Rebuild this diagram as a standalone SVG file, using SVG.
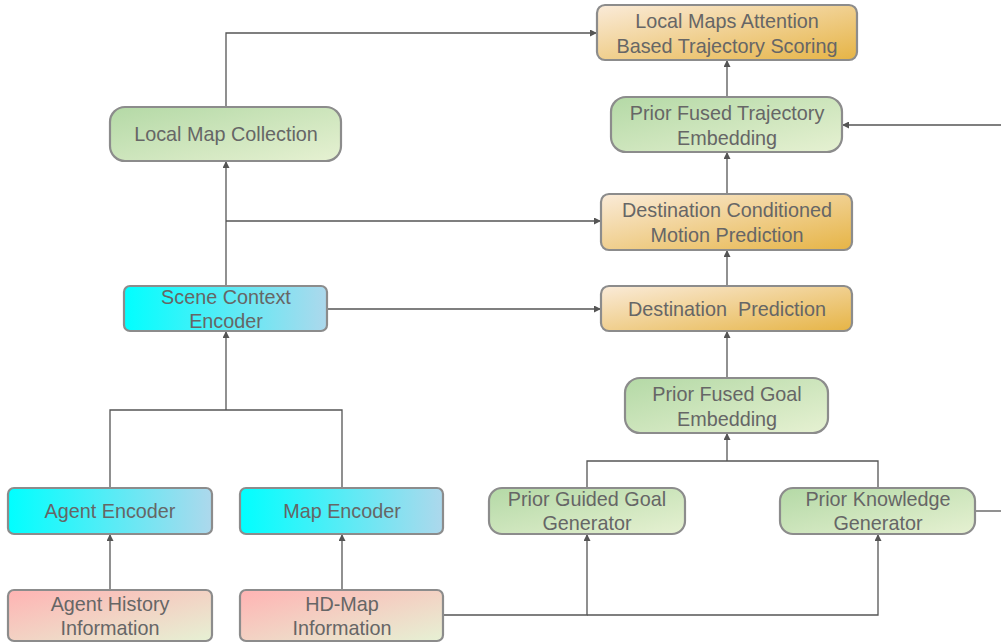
<svg xmlns="http://www.w3.org/2000/svg" width="1001" height="643" viewBox="0 0 1001 643">
<defs>
<linearGradient id="gCyan" x1="0" y1="0" x2="1" y2="0"><stop offset="0" stop-color="#00FFFF"/><stop offset="1" stop-color="#ADD8EC"/></linearGradient>
<linearGradient id="gOrange" x1="0" y1="0" x2="1" y2="1"><stop offset="0" stop-color="#FAEBD9"/><stop offset="1" stop-color="#E6B445"/></linearGradient>
<linearGradient id="gGreen" x1="0" y1="0" x2="1" y2="1"><stop offset="0" stop-color="#B4D9A6"/><stop offset="1" stop-color="#E6F1D2"/></linearGradient>
<linearGradient id="gPink" x1="0" y1="0" x2="1" y2="1"><stop offset="0" stop-color="#FFB3B3"/><stop offset="1" stop-color="#E6F1D4"/></linearGradient>
<marker id="arr" viewBox="0 0 10 10" refX="10" refY="5" markerWidth="7" markerHeight="7" markerUnits="userSpaceOnUse" orient="auto"><path d="M0,0 L10,5 L0,10 Z" fill="#555"/></marker>
</defs>
<style>
.box{stroke:#8C8C8C;stroke-width:2.2}
.t{font-family:"Liberation Sans",Arial,sans-serif;font-size:19.8px;fill:#666;text-anchor:middle;white-space:pre}
.c{fill:none;stroke:#555;stroke-width:1.3}
.a{marker-end:url(#arr)}
</style>
<rect width="1001" height="643" fill="#FFFFFF"/>
<g id="connectors">
<path class="c a" d="M110,590 V534"/>
<path class="c a" d="M342,590 V534"/>
<path class="c" d="M110,488 V410 H342 V488"/>
<path class="c a" d="M226,410 V331"/>
<path class="c a" d="M226,286 V161"/>
<path class="c a" d="M226,221 H601"/>
<path class="c a" d="M226,107 V33 H597"/>
<path class="c a" d="M327,309 H601"/>
<path class="c a" d="M727,286 V250"/>
<path class="c a" d="M727,194 V152"/>
<path class="c a" d="M727,97 V60"/>
<path class="c a" d="M1003,125 H842"/>
<path class="c" d="M975,511 H1003"/>
<path class="c a" d="M727,378 V331"/>
<path class="c" d="M587,488 V461 H878 V488"/>
<path class="c a" d="M727,461 V433"/>
<path class="c a" d="M443,615 H587 V534"/>
<path class="c a" d="M587,615 H878 V534"/>
</g>
<g id="local-maps-attention"><rect class="box" x="597" y="5" width="260" height="55" rx="8" fill="url(#gOrange)"/><text class="t" x="727" y="28">Local Maps Attention</text><text class="t" x="727" y="53">Based Trajectory Scoring</text></g>
<g id="prior-fused-trajectory"><rect class="box" x="611" y="97" width="231" height="55" rx="15" fill="url(#gGreen)"/><text class="t" x="727" y="120">Prior Fused Trajectory</text><text class="t" x="727" y="145">Embedding</text></g>
<g id="destination-conditioned"><rect class="box" x="601" y="194" width="251" height="56" rx="8" fill="url(#gOrange)"/><text class="t" x="727" y="217">Destination Conditioned</text><text class="t" x="727" y="242">Motion Prediction</text></g>
<g id="destination-prediction"><rect class="box" x="601" y="286" width="251" height="45" rx="8" fill="url(#gOrange)"/><text class="t" x="727" y="316" xml:space="preserve">Destination  Prediction</text></g>
<g id="prior-fused-goal"><rect class="box" x="625" y="378" width="203" height="55" rx="15" fill="url(#gGreen)"/><text class="t" x="727" y="401">Prior Fused Goal</text><text class="t" x="727" y="426">Embedding</text></g>
<g id="prior-guided-goal"><rect class="box" x="489" y="488" width="196" height="46" rx="13" fill="url(#gGreen)"/><text class="t" x="587" y="506">Prior Guided Goal</text><text class="t" x="587" y="530">Generator</text></g>
<g id="prior-knowledge"><rect class="box" x="780" y="488" width="195" height="46" rx="13" fill="url(#gGreen)"/><text class="t" x="878" y="506">Prior Knowledge</text><text class="t" x="878" y="530">Generator</text></g>
<g id="local-map-collection"><rect class="box" x="110" y="107" width="231" height="54" rx="15" fill="url(#gGreen)"/><text class="t" x="226" y="141">Local Map Collection</text></g>
<g id="scene-context-encoder"><rect class="box" x="124" y="286" width="203" height="45" rx="6" fill="url(#gCyan)"/><text class="t" x="226" y="304">Scene Context</text><text class="t" x="226" y="328">Encoder</text></g>
<g id="agent-encoder"><rect class="box" x="8" y="488" width="204" height="46" rx="6" fill="url(#gCyan)"/><text class="t" x="110" y="518">Agent Encoder</text></g>
<g id="map-encoder"><rect class="box" x="240" y="488" width="203" height="46" rx="6" fill="url(#gCyan)"/><text class="t" x="342" y="518">Map Encoder</text></g>
<g id="agent-history"><rect class="box" x="8" y="590" width="204" height="51" rx="6" fill="url(#gPink)"/><text class="t" x="110" y="611">Agent History</text><text class="t" x="110" y="635">Information</text></g>
<g id="hd-map"><rect class="box" x="240" y="590" width="203" height="51" rx="6" fill="url(#gPink)"/><text class="t" x="342" y="611">HD-Map</text><text class="t" x="342" y="635">Information</text></g>
</svg>
